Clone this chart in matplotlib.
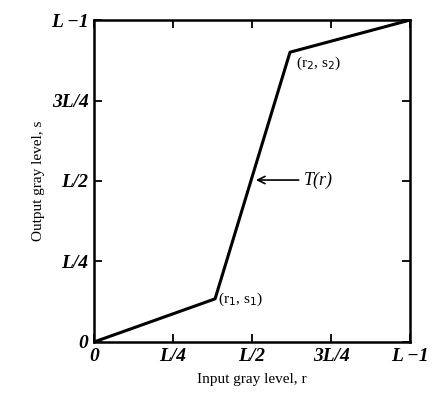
import matplotlib.pyplot as plt

# piecewise-linear contrast stretching function
r_pts = [0.0, 0.383, 0.62, 1.0]
s_pts = [0.0, 0.134, 0.90, 1.0]

tick_pos = [0, 0.25, 0.5, 0.75, 1.0]
x_labels = ['0', 'L/4', 'L/2', '3L/4', 'L \u22121']
y_labels = ['0', 'L/4', 'L/2', '3L/4', 'L \u22121']

plt.rcParams['font.family'] = ['Liberation Serif', 'DejaVu Serif']

fig = plt.figure(figsize=(4.34, 4.05), dpi=100)
ax = fig.add_axes([0.2166, 0.1556, 0.7284, 0.795])

ax.plot(r_pts, s_pts, color='black', lw=2.2, solid_capstyle='butt')
ax.set_xlim(0, 1)
ax.set_ylim(0, 1)

ax.set_xticks(tick_pos)
ax.set_yticks(tick_pos)
ax.set_xticklabels(x_labels, fontsize=14, fontweight='bold', style='italic')
ax.set_yticklabels(y_labels, fontsize=14, fontweight='bold', style='italic')
ax.tick_params(direction='in', length=6, width=1.3, top=True, right=True, pad=4)
for sp in ax.spines.values():
    sp.set_linewidth(1.8)

ax.set_xlabel('Input gray level, r', fontsize=11, labelpad=6)
ax.set_ylabel('Output gray level, s', fontsize=11, labelpad=4)

# arrow pointing at the steep segment near s = L/2
s_mid = 0.503
r_mid = r_pts[1] + (s_mid - s_pts[1]) / (s_pts[2] - s_pts[1]) * (r_pts[2] - r_pts[1])
ax.annotate('T(r)', xy=(r_mid + 0.015, s_mid), xytext=(0.665, s_mid),
            fontsize=13, style='italic', va='center', ha='left',
            arrowprops=dict(arrowstyle='->', color='black', lw=1.2, shrinkA=2, shrinkB=0))
ax.text(r_pts[1] + 0.01, s_pts[1], '(r$_1$, s$_1$)', fontsize=11, va='center', ha='left')
ax.text(r_pts[2] + 0.02, s_pts[2] - 0.035, '(r$_2$, s$_2$)', fontsize=11, va='center', ha='left')

fig.savefig('out.png', dpi=100)
